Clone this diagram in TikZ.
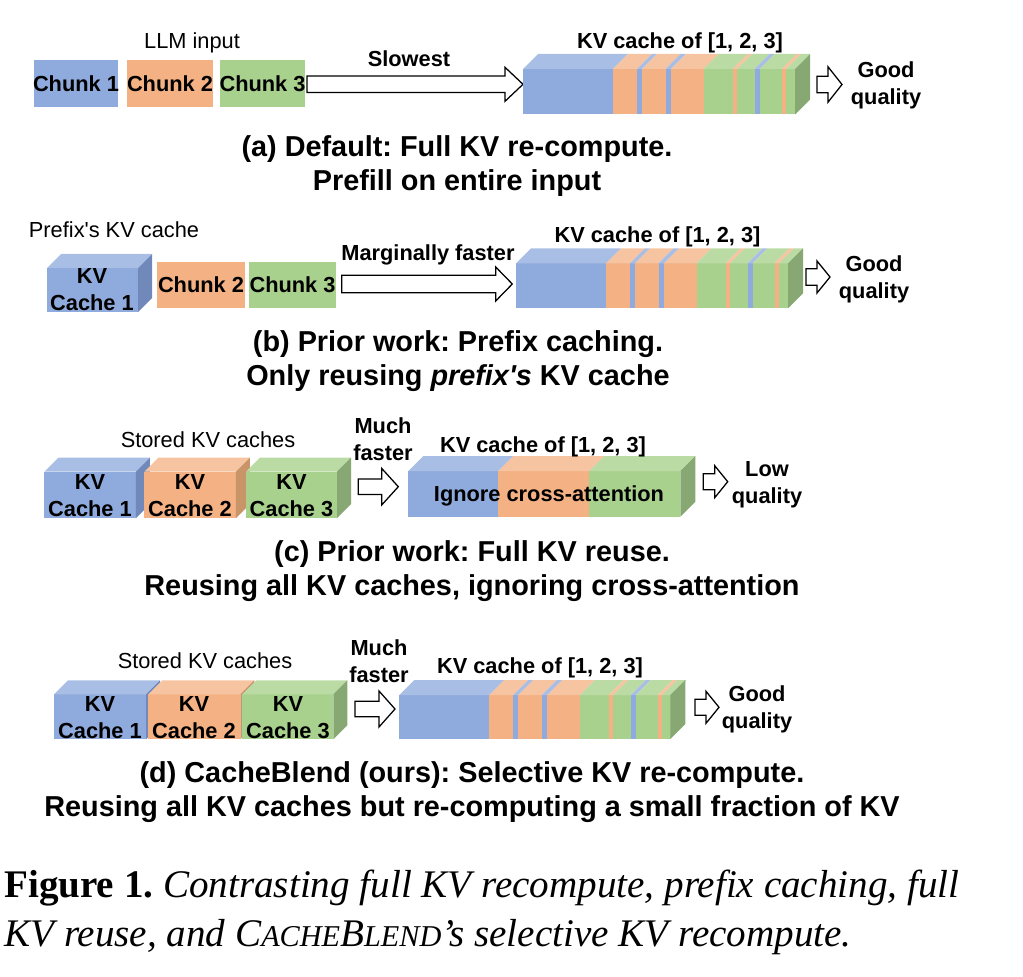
\documentclass[tikz,border=0pt]{standalone}
\usepackage{fontspec}
\setmainfont{Liberation Sans}[Ligatures=TeXOff]
\newfontfamily\capfont{Liberation Serif}
\usepackage{tikz}

\definecolor{kvblue}{HTML}{8FAADC}
\definecolor{kvblueT}{HTML}{A9BEE5}
\definecolor{kvblueS}{HTML}{7189BA}
\definecolor{kvorange}{HTML}{F4B183}
\definecolor{kvorangeT}{HTML}{F6C4A0}
\definecolor{kvorangeS}{HTML}{C99468}
\definecolor{kvgreen}{HTML}{A9D18E}
\definecolor{kvgreenT}{HTML}{BBDBA5}
\definecolor{kvgreenS}{HTML}{87A872}

% striped KV bar: x, y, width, height, macro holding from/to/colour
\newcommand{\kvbar}[5]{
  \foreach \sa/\sb/\col in #5 {
    \fill[fill=\col] ({#1+\sa},#2) rectangle ({#1+\sb},{#2+#4});
    \fill[fill=\col T] ({#1+\sa},#2) -- ({#1+\sb},#2) -- ({#1+\sb+15},{#2-15}) -- ({#1+\sa+15},{#2-15}) -- cycle;
  }
  \fill[kvgreenS] ({#1+#3},#2) -- ({#1+#3+15},{#2-15}) -- ({#1+#3+15},{#2+#4-15}) -- ({#1+#3},{#2+#4}) -- cycle;
}
% one cube: x, y, width, height, colour
\newcommand{\kvcube}[5]{
  \fill[#5] (#1,#2) rectangle ({#1+#3},{#2+#4});
  \fill[#5T] (#1,#2) -- ({#1+#3},#2) -- ({#1+#3+14},{#2-14}) -- ({#1+14},{#2-14}) -- cycle;
  \fill[#5S] ({#1+#3},#2) -- ({#1+#3+14},{#2-14}) -- ({#1+#3+14},{#2+#4-14}) -- ({#1+#3},{#2+#4}) -- cycle;
}
% hollow block arrow: x start, x tip, y centre, head length, shaft half, head half
\newcommand{\blockarrow}[6]{
  \draw[fill=white, line width=0.9pt, line join=miter] (#1,{#3-#5}) -- ({#2-#4},{#3-#5}) -- ({#2-#4},{#3-#6}) -- (#2,#3) -- ({#2-#4},{#3+#6}) -- ({#2-#4},{#3+#5}) -- (#1,{#3+#5}) -- cycle;
}
\newcommand{\stripes}{0/90/kvblue, 90/114/kvorange, 114/119/kvblue, 119/142.5/kvorange, 142.5/148/kvblue, 148/180.5/kvorange, 180.5/209.5/kvgreen, 209.5/214/kvorange, 214/231.5/kvgreen, 231.5/236.5/kvblue, 236.5/258.5/kvgreen, 258.5/263/kvorange, 263/272/kvgreen}
\newcommand{\thirds}{0/90/kvblue, 90/181/kvorange, 181/272/kvgreen}

\begin{document}
\frenchspacing
\begin{tikzpicture}[x=0.025cm, y=-0.025cm,
  lbl/.style={inner sep=0pt, align=center, font=\fontsize{15.5}{19.2}\selectfont\bfseries},
  note/.style={inner sep=0pt, font=\fontsize{15.5}{19}\selectfont},
  subcap/.style={inner sep=0pt, align=center, font=\fontsize{20.5}{24.2}\selectfont\bfseries},
  figcap/.style={inner sep=0pt, anchor=west, font=\capfont\fontsize{27.8}{32}\selectfont}]
\useasboundingbox (0,0) rectangle (1023,977);

% (a) full re-compute
\node[note] (llmin) at (192,43) {LLM input};
\fill[kvblue] (34,60) rectangle (118,107);
\fill[kvorange] (127,60) rectangle (213,107);
\fill[kvgreen] (220,60) rectangle (305,107);
\node[lbl] (chunk1a) at (76,84) {Chunk 1};
\node[lbl] (chunk2a) at (170,84) {Chunk 2};
\node[lbl] (chunk3a) at (262.5,84) {Chunk 3};
\blockarrow{307}{523}{84.3}{18}{8.2}{17}
\node[lbl] (slow) at (409,59) {Slowest};
\kvbar{523}{69}{272}{45.5}{\stripes}
\node[lbl] (kva) at (680,43) {KV cache of [1, 2, 3]};
\blockarrow{817}{842}{84.5}{14}{8.2}{17.7}
\node[lbl] (gooda) at (886,85) {Good\\quality};
\node[subcap] (capa) at (457,166) {(a) Default: Full KV re-compute.\\Prefill on entire input};

% (b) prefix caching
\node[note] (prefix) at (114,230) {Prefix's KV cache};
\kvcube{47}{268}{91}{44}{kvblue}
\node[lbl] (cache1b) at (92,290) {KV\\Cache 1};
\fill[kvorange] (157,262) rectangle (245,308);
\fill[kvgreen] (249,262) rectangle (336,308);
\node[lbl] (chunk2b) at (201,285) {Chunk 2};
\node[lbl] (chunk3b) at (292.5,285) {Chunk 3};
\blockarrow{341.7}{512.3}{284}{16.6}{8.7}{17}
\node[lbl] (margin) at (428,255) {Marginally faster};
\kvbar{516}{263.3}{272}{45}{\stripes}
\node[lbl] (kvb) at (657.5,237) {KV cache of [1, 2, 3]};
\blockarrow{806}{830}{277}{13}{8.2}{16}
\node[lbl] (goodb) at (874,279) {Good\\quality};
\node[subcap] (capb) at (458,361) {(b) Prior work: Prefix caching.\\Only reusing \textit{prefix's} KV cache};

% (c) full KV reuse
\node[note] (storedc) at (208,440) {Stored KV caches};
\kvcube{44.3}{471.7}{91.5}{46.5}{kvblue}
\kvcube{144.3}{471.7}{91.5}{46.5}{kvorange}
\kvcube{246}{471.7}{91}{46.5}{kvgreen}
\node[lbl] (cache1c) at (90,496) {KV\\Cache 1};
\node[lbl] (cache2c) at (190,496) {KV\\Cache 2};
\node[lbl] (cache3c) at (291.5,496) {KV\\Cache 3};
\node[lbl] (fastc) at (383,439) {Much\\faster};
\blockarrow{358.3}{398.3}{486.7}{16.6}{7.8}{18.3}
\kvbar{408.3}{471}{272}{45.7}{\thirds}
\node[lbl] (ignore) at (549,496) {Ignore cross-attention};
\node[lbl] (kvc) at (543,447) {KV cache of [1, 2, 3]};
\blockarrow{703.3}{727.7}{481.7}{13}{8}{16}
\node[lbl] (lowc) at (767,484.5) {Low\\quality};
\node[subcap] (capc) at (472,571.5) {(c) Prior work: Full KV reuse.\\Reusing all KV caches, ignoring cross-attention};

% (d) CacheBlend
\node[note] (storedd) at (205,661) {Stored KV caches};
\kvcube{54}{694.3}{92}{45}{kvblue}
\kvcube{148.3}{694.3}{92}{45}{kvorange}
\kvcube{242.3}{694.3}{91}{45}{kvgreen}
\node[lbl] (cache1d) at (100,718) {KV\\Cache 1};
\node[lbl] (cache2d) at (194,718) {KV\\Cache 2};
\node[lbl] (cache3d) at (288,718) {KV\\Cache 3};
\node[lbl] (fastd) at (379,661) {Much\\faster};
\blockarrow{355}{395}{709}{16}{7.8}{18}
\kvbar{399.3}{695}{271}{44}{\stripes}
\node[lbl] (kvd) at (540,667.5) {KV cache of [1, 2, 3]};
\blockarrow{695}{719}{707.3}{13}{8}{16}
\node[lbl] (goodd) at (757,709) {Good\\quality};
\node[subcap] (capd) at (472,792.5) {(d) CacheBlend (ours): Selective KV re-compute.\\Reusing all KV caches but re-computing a small fraction of KV};

% figure caption
\node[figcap] (fig1) at (4,888)
  {\textbf{Figure 1.} \textit{Contrasting full KV recompute, prefix caching, full}};
\node[figcap] (fig2) at (4,937)
  {\textit{KV reuse, and C{\fontsize{21.5}{24}\selectfont ACHE}B{\fontsize{21.5}{24}\selectfont LEND}’s selective KV recompute.}};
\end{tikzpicture}
\end{document}
